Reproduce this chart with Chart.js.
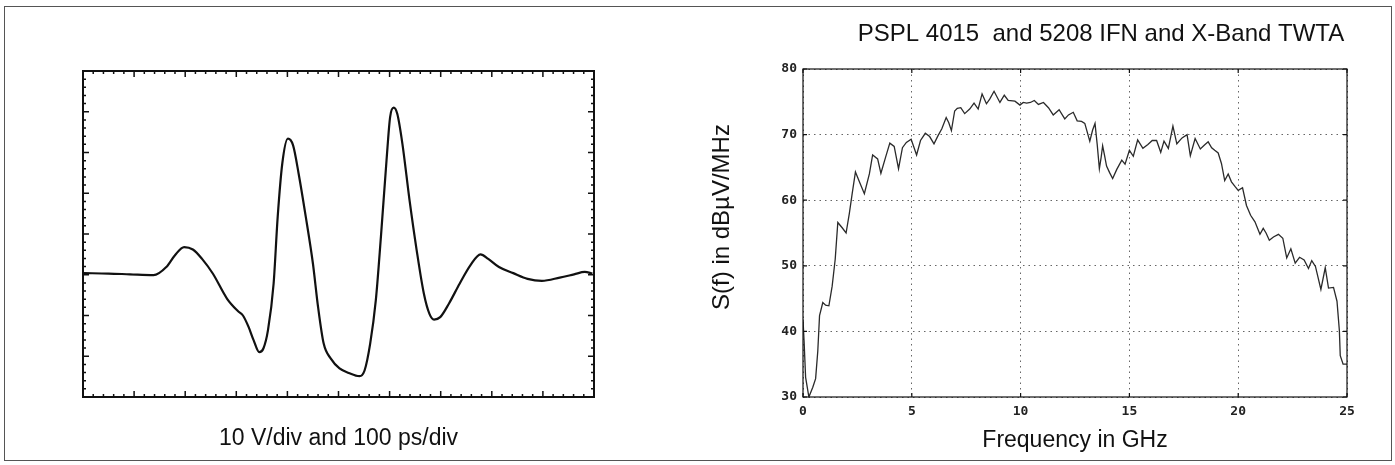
<!DOCTYPE html>
<html>
<head>
<meta charset="utf-8">
<script src="https://cdn.jsdelivr.net/npm/chart.js@4.4.1/dist/chart.umd.min.js"></script>
<style>
  html, body { margin: 0; padding: 0; background: #fff; }
  #page { position: relative; width: 1395px; height: 465px; overflow: hidden; }
  #frame { position: absolute; left: 4px; top: 6px; width: 1386px; height: 453px; border: 1px solid #555; }
  canvas { position: absolute; top: 0; }
  #scope { left: 0; }
  #spectrum { left: 690px; }
</style>
</head>
<body>
<div id="page">
  <div id="frame"></div>
  <canvas id="scope" width="697" height="465"></canvas>
  <canvas id="spectrum" width="705" height="465"></canvas>
</div>
<script>
// left: scope trace, time in ps, amplitude in V (10 V/div, 100 ps/div)
const waveTime = [2, 50, 92, 138, 163, 180, 198, 215, 233, 254,
                  282, 303, 313, 324, 334, 345, 353, 362, 373, 381,
                  390, 401, 411, 422, 436, 450, 460, 471, 485, 502,
                  520, 541, 551, 562, 573, 583, 594, 601, 608, 615,
                  625, 639, 653, 667, 678, 687, 699, 716, 737, 758,
                  778, 793, 814, 842, 870, 898, 933, 961, 982, 997];
const waveVolts = [-9.6, -9.7, -9.9, -10.1, -8.1, -5.2, -3.2, -3.8, -6.1, -9.7,
                   -15.9, -18.9, -20.0, -22.8, -26.1, -29.0, -28.1, -23.6, -12.2, 4.2,
                   17.3, 23.4, 21.8, 14.8, 4.2, -7.3, -17.9, -26.9, -30.6, -33.0,
                   -34.1, -34.9, -33.5, -26.9, -16.3, -0.7, 18.1, 28.7, 31.0, 29.5,
                   22.2, 8.3, -4.0, -14.6, -19.6, -21.0, -20.4, -17.1, -12.2, -7.7,
                   -5.0, -6.1, -8.1, -9.6, -11.0, -11.5, -10.7, -9.9, -9.3, -9.7];

// right: spectrum, frequency in GHz, level in dBuV/MHz
const specFreq = [0, 0.05, 0.12, 0.27, 0.45, 0.58, 0.68, 0.76, 0.91, 1.04,
                  1.19, 1.34, 1.48, 1.60, 1.80, 1.98, 2.13, 2.26, 2.41, 2.62,
                  2.82, 3.05, 3.20, 3.43, 3.58, 3.80, 3.99, 4.19, 4.39, 4.57,
                  4.75, 4.97, 5.22, 5.40, 5.62, 5.82, 6.02, 6.20, 6.38, 6.58,
                  6.70, 6.82, 6.97, 7.09, 7.25, 7.43, 7.66, 7.86, 8.05, 8.23,
                  8.43, 8.58, 8.78, 9.05, 9.25, 9.43, 9.74, 9.97, 10.12, 10.28,
                  10.45, 10.63, 10.82, 11.05, 11.28, 11.50, 11.77, 12.03, 12.20, 12.42,
                  12.60, 12.80, 12.95, 13.18, 13.31, 13.42, 13.52, 13.62, 13.70, 13.77,
                  13.86, 13.95, 14.09, 14.23, 14.42, 14.65, 14.80, 15.00, 15.18, 15.38,
                  15.62, 15.85, 16.05, 16.25, 16.44, 16.59, 16.79, 17.00, 17.18, 17.42,
                  17.65, 17.80, 18.02, 18.26, 18.45, 18.62, 18.78, 18.92, 19.08, 19.23,
                  19.38, 19.54, 19.69, 19.85, 20.00, 20.20, 20.38, 20.57, 20.77, 21.00,
                  21.15, 21.28, 21.43, 21.62, 21.85, 22.05, 22.23, 22.42, 22.62, 22.82,
                  23.03, 23.23, 23.38, 23.55, 23.80, 24.00, 24.15, 24.38, 24.54, 24.65,
                  24.69, 24.82, 25.00];
const specLevel = [41.8, 38.5, 33, 30, 31.5, 32.8, 37, 42.4, 44.4, 44.0,
                   43.9, 46.9, 51, 56.6, 55.8, 55, 58, 61, 64.3, 62.6,
                   61, 64, 66.9, 66.3, 64.1, 66.6, 68.7, 68.2, 64.8, 68,
                   68.8, 69.3, 66.9, 69.1, 70.2, 69.7, 68.6, 69.8, 70.9, 72.6,
                   71.8, 70.6, 73.6, 74, 74.1, 73.2, 73.9, 74.8, 73.9, 76.2,
                   74.7, 75.4, 76.6, 74.9, 76, 75.2, 75.1, 74.5, 74.9, 74.8,
                   74.9, 75.2, 74.6, 74.9, 74.1, 73.0, 73.8, 72.4, 73.0, 73.4,
                   72.1, 72.0, 71.7, 69.0, 70.7, 71.7, 68.5, 64.8, 66.5, 68.3,
                   66.8, 65.2, 64.2, 63.3, 64.7, 66.1, 65.5, 67.6, 66.7, 69.2,
                   67.9, 68.5, 69.1, 69.1, 67.3, 69.0, 67.9, 71.3, 68.6, 69.5,
                   70.0, 66.8, 69.4, 67.8, 68.4, 68.9, 68.0, 67.6, 67.2, 65.6,
                   63.0, 64.0, 62.8, 62.1, 61.5, 61.9, 59.2, 57.7, 56.7, 54.8,
                   55.7, 55.0, 53.9, 54.4, 54.8, 54.2, 51.2, 52.6, 50.4, 51.3,
                   50.9, 49.6, 50.8, 49.9, 46.4, 49.7, 46.6, 46.7, 44.6, 40.1,
                   36.3, 35.0, 35.0];

const freqTicks = [0, 5, 10, 15, 20, 25];
const levelTicks = [30, 40, 50, 60, 70, 80];

const scopeCaption = '10 V/div and 100 ps/div';
const specTitle = 'PSPL 4015  and 5208 IFN and X-Band TWTA';
const specXTitle = 'Frequency in GHz';
const specYTitle = 'S(f) in dB\u00B5V/MHz';

const TEXT_FONT = '"Liberation Sans", Arial, sans-serif';

// draws free text relative to the chart area (dx, dy from its top-left corner)
function textPlugin(items) {
    return {
        id: 'freeText',
        afterDraw(chart) {
            const { ctx, chartArea: a } = chart;
            items.forEach(it => {
                ctx.save();
                ctx.font = it.font;
                ctx.fillStyle = '#111';
                ctx.textAlign = 'center';
                ctx.textBaseline = 'middle';
                ctx.translate(a.left + it.dx, a.top + it.dy);
                if (it.rotate) ctx.rotate(it.rotate);
                ctx.fillText(it.text, 0, 0);
                ctx.restore();
            });
        }
    };
}

// scope graticule: heavy frame with inward ticks, 5 minor per division
const scopeFrame = {
    id: 'scopeFrame',
    afterDatasetsDraw(chart) {
        const { ctx, chartArea: a, scales: { x, y } } = chart;
        ctx.save();
        ctx.strokeStyle = '#111';
        ctx.lineWidth = 2;
        ctx.strokeRect(a.left, a.top, a.right - a.left, a.bottom - a.top);
        ctx.lineWidth = 1.5;
        ctx.beginPath();
        for (let t = 20; t < 1000; t += 20) {
            const px = x.getPixelForValue(t);
            const len = t % 100 === 0 ? 6 : 3;
            ctx.moveTo(px, a.top); ctx.lineTo(px, a.top + len);
            ctx.moveTo(px, a.bottom); ctx.lineTo(px, a.bottom - len);
        }
        for (let v = -38; v < 40; v += 2) {
            const py = y.getPixelForValue(v);
            const len = v % 10 === 0 ? 6 : 3;
            ctx.moveTo(a.left, py); ctx.lineTo(a.left + len, py);
            ctx.moveTo(a.right, py); ctx.lineTo(a.right - len, py);
        }
        ctx.stroke();
        ctx.restore();
    }
};

// spectrum box with inward ticks at each labelled value
const specFrame = {
    id: 'specFrame',
    afterDatasetsDraw(chart) {
        const { ctx, chartArea: a, scales: { x, y } } = chart;
        ctx.save();
        ctx.strokeStyle = '#111';
        ctx.lineWidth = 1.2;
        ctx.strokeRect(a.left, a.top, a.right - a.left, a.bottom - a.top);
        ctx.beginPath();
        freqTicks.forEach(f => {
            const px = x.getPixelForValue(f);
            ctx.moveTo(px, a.bottom); ctx.lineTo(px, a.bottom - 4);
            ctx.moveTo(px, a.top); ctx.lineTo(px, a.top + 4);
        });
        levelTicks.forEach(l => {
            const py = y.getPixelForValue(l);
            ctx.moveTo(a.left, py); ctx.lineTo(a.left + 4, py);
            ctx.moveTo(a.right, py); ctx.lineTo(a.right - 4, py);
        });
        ctx.stroke();
        ctx.restore();
    }
};

new Chart(document.getElementById('scope'), {
    type: 'line',
    data: {
        datasets: [{
            data: waveTime.map((t, i) => ({ x: t, y: waveVolts[i] })),
            borderColor: '#111',
            borderWidth: 2.2,
            pointRadius: 0,
            cubicInterpolationMode: 'monotone',
            fill: false
        }]
    },
    options: {
        responsive: false,
        animation: false,
        layout: { padding: { left: 83, top: 71, right: 103, bottom: 68 } },
        scales: {
            x: { type: 'linear', min: 0, max: 1000, display: false },
            y: { type: 'linear', min: -40, max: 40, display: false }
        },
        plugins: { legend: { display: false }, tooltip: { enabled: false } }
    },
    plugins: [scopeFrame, textPlugin([
        { text: scopeCaption, font: '23px ' + TEXT_FONT, dx: 255.5, dy: 368 }
    ])]
});

const tickFont = { family: '"DejaVu Sans Mono", monospace', weight: 'bold', size: 13 };

new Chart(document.getElementById('spectrum'), {
    type: 'line',
    data: {
        datasets: [{
            data: specFreq.map((f, i) => ({ x: f, y: specLevel[i] })),
            borderColor: '#2a2a2a',
            borderWidth: 1.3,
            pointRadius: 0,
            tension: 0,
            fill: false
        }]
    },
    options: {
        responsive: false,
        animation: false,
        layout: { padding: { left: 73, top: 69, right: 48, bottom: 38 } },
        scales: {
            x: {
                type: 'linear', min: 0, max: 25,
                afterFit: s => { s.height = 30; },
                afterBuildTicks: s => { s.ticks = freqTicks.map(v => ({ value: v })); },
                ticks: { font: tickFont, color: '#222', padding: 7 },
                grid: { color: '#666', lineWidth: 1, drawTicks: false },
                border: { display: false, dash: [1.5, 4] }
            },
            y: {
                type: 'linear', min: 30, max: 80,
                afterFit: s => { s.width = 40; },
                afterBuildTicks: s => { s.ticks = levelTicks.map(v => ({ value: v })); },
                ticks: { font: tickFont, color: '#222', padding: 6 },
                grid: { color: '#666', lineWidth: 1, drawTicks: false },
                border: { display: false, dash: [1.5, 4] }
            }
        },
        plugins: { legend: { display: false }, tooltip: { enabled: false } }
    },
    plugins: [specFrame, textPlugin([
        { text: specTitle, font: '24px ' + TEXT_FONT, dx: 298, dy: -35 },
        { text: specYTitle, font: '24px ' + TEXT_FONT, dx: -81, dy: 148, rotate: -Math.PI / 2 },
        { text: specXTitle, font: '23px ' + TEXT_FONT, dx: 272, dy: 372 }
    ])]
});
</script>
</body>
</html>
